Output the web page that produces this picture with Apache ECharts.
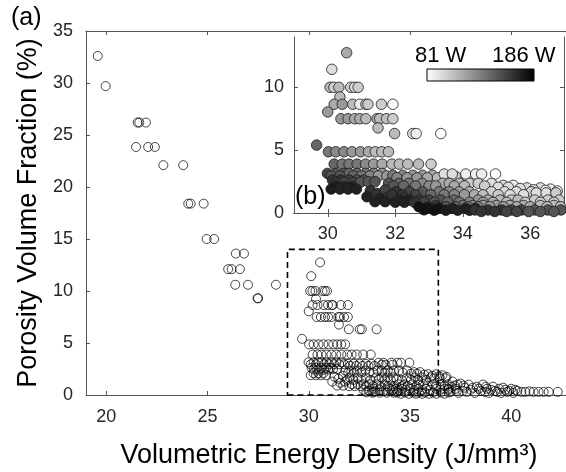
<!DOCTYPE html>
<html>
<head>
<meta charset="utf-8">
<script src="https://cdn.jsdelivr.net/npm/echarts@6/dist/echarts.min.js"></script>
<style>
html,body{margin:0;padding:0;background:#fff;}
#chart{width:566px;height:472px;}
</style>
</head>
<body>
<div id="chart"></div>
<script>
// ---- data ----
const mainXTicks = [20, 25, 30, 35, 40];
const insetXTicks = [30, 32, 34, 36];
const insetYTicks = [0, 5, 10];

// low-energy samples (main plot only)
const sparseEnergy = [19.58,19.97,21.55,21.63,21.96,21.47,22.07,22.4,22.82,23.8,24.05,24.17,24.81,24.96,25.33,26.4,26.8,26.02,26.19,26.6,26.37,27.0,27.47,27.5,28.38];
const sparsePorosity = [32.6,29.7,26.2,26.2,26.2,23.85,23.85,23.85,22.1,22.1,18.4,18.4,18.4,15.0,15.0,13.6,13.6,12.1,12.1,12.1,10.6,10.6,9.3,9.3,10.6];

// dense samples: [energy J/mm3, porosity %, laser power W]
const densePoints = [
[30.56,12.75,116],[30.12,11.43,95],
[30.07,10.0,109],[30.18,10.0,102],[30.33,10.0,109],[30.68,10.0,102],[30.80,10.0,95],[30.90,10.0,102],
[30.36,9.23,109],
[30.19,8.65,116],[30.43,8.65,123],[30.74,8.65,109],[30.95,8.65,88],[31.13,8.65,102],[31.19,8.65,102],[31.59,8.65,102],[31.93,8.65,81],
[30.0,8.04,123],
[30.39,7.5,123],[30.6,7.5,123],[30.8,7.5,116],[30.95,7.5,116],[31.13,7.5,109],[31.46,7.5,116],[31.54,7.5,109],[31.74,7.5,109],[31.93,7.5,102],
[31.49,6.77,109],
[31.98,6.32,109],[32.52,6.32,95],[32.62,6.32,88],[33.35,6.32,81],
[29.67,5.4,144],
[30.02,4.87,137],[30.24,4.87,130],[30.48,4.87,130],[30.72,4.87,123],[30.97,4.87,123],[31.21,4.87,116],[31.41,4.87,109],[31.6,4.87,109],[31.8,4.87,109],
[30.19,3.89,144],[30.43,3.89,137],[30.63,3.89,137],[30.87,3.89,137],[31.12,3.89,130],[31.36,3.89,123],[31.61,3.89,116],[31.9,3.89,109],[32.12,3.89,109],[32.37,3.89,109],[32.69,3.89,109],[33.06,3.89,102],
[29.99,3.15,158],[30.24,3.15,151],[30.48,3.15,151],[30.63,3.15,144],[30.87,3.15,144],[31.12,3.15,137],[31.36,3.15,130],[31.61,3.15,123],
[30.1,2.95,151],[30.36,2.95,151],[30.75,2.95,144],[31.0,2.95,137],[31.25,2.95,130],[31.5,2.95,123],[31.75,2.95,123],
[31.93,3.0,137],[32.22,3.0,130],[32.52,3.0,123],[32.81,3.0,123],[33.1,3.0,116],[33.6,2.9,102],[33.79,2.9,102],[34.13,2.9,95],
[32.05,2.8,130],[32.35,2.8,123],[32.65,2.8,123],[32.95,2.8,116],[33.25,2.8,109],
[33.45,3.1,95],[33.69,3.1,95],[34.09,3.1,88],[34.38,3.1,88],[34.56,3.1,88],[34.97,3.1,81],
[30.14,2.62,165],[30.38,2.62,165],[30.63,2.62,158],[30.87,2.62,151],[31.07,2.62,151],
[30.25,2.45,165],[30.5,2.45,158],[30.75,2.45,158],[30.97,2.45,151],[31.2,2.5,151],[31.4,2.5,151],
[30.24,2.09,175],[30.48,2.09,172],[30.72,2.09,172],[30.1,1.9,175],[30.36,1.9,172],[30.6,1.9,172],[30.85,1.9,172],
[31.8,2.36,151],[32.1,2.36,144],[32.4,2.36,137],[32.8,2.36,130],[33.4,2.36,116],[33.6,2.36,116],[33.9,2.36,109],[34.2,2.36,102],[34.46,2.36,102],[34.85,2.36,95],
[31.95,2.15,151],[32.25,2.15,144],[32.6,2.15,137],[33.0,2.15,130],[33.2,2.15,123],[33.75,2.15,116],[34.05,2.15,109],[34.65,2.15,102],
[35.2,2.2,95],[35.5,2.2,88],[35.9,2.0,95],[36.3,2.0,95],[36.6,1.9,88],
[35.05,2.05,95],[35.35,2.05,95],[35.7,1.95,95],[36.1,1.85,95],[36.45,1.8,88],[36.8,1.75,88],
[31.26,1.77,165],[31.46,1.56,165],[31.7,1.83,158],[31.16,1.29,172],[31.56,1.17,172],[31.8,1.29,165],
[32.03,1.69,165],[32.42,1.69,158],[32.81,1.69,151],[33.3,1.69,137],[33.6,1.69,130],[33.89,1.69,123],[34.19,1.69,116],[34.85,1.69,102],[35.24,1.69,95],[35.59,1.69,95],[36.03,1.69,102],[36.18,1.6,95],[36.47,1.6,95],[36.76,1.6,102],
[31.9,1.45,165],[32.2,1.45,165],[32.6,1.45,158],[33.05,1.45,144],[33.45,1.45,137],[33.75,1.45,130],[34.05,1.45,123],[34.35,1.45,116],[34.6,1.45,109],[35.05,1.45,102],[35.4,1.45,95],[35.8,1.45,95],
[32.13,1.03,172],[32.42,1.03,172],[32.72,1.03,165],[33.0,1.03,158],[33.35,1.03,151],[33.74,1.03,144],[34.46,1.03,123],[34.75,1.03,116],[35.1,1.03,109],[35.44,1.03,102],[35.64,1.03,109],[36.13,1.03,102],[36.52,1.03,102],[36.86,1.03,102],
[31.4,0.9,172],[31.7,0.9,172],[32.0,0.85,172],[32.27,0.85,172],[32.57,0.85,165],[32.85,0.85,158],[33.17,0.85,151],[33.55,0.85,144],[33.9,0.85,137],[34.2,0.85,130],[34.6,0.85,123],[34.9,0.85,116],[35.3,0.85,109],[35.85,0.85,102],[36.3,0.85,102],[36.7,0.85,102],
[33.2,0.6,165],[34.0,0.6,137],[34.3,0.6,130],[34.6,0.6,123],[35.0,0.6,123],[35.4,0.6,116],[35.8,0.6,116],[36.3,0.6,109],[36.7,0.6,109],
[33.5,0.5,151],[33.8,0.5,144],[34.15,0.5,137],[34.45,0.5,130],[34.8,0.5,123],[35.2,0.5,123],[35.6,0.5,116],[36.0,0.5,116],[36.5,0.5,109],[36.9,0.5,109],
[32.7,0.5,179],[32.95,0.45,179],[33.2,0.3,175],
[33.0,0.37,179],[33.3,0.37,179],[33.69,0.37,172],[34.09,0.37,172],[34.38,0.37,172],
[32.85,0.25,179],[33.15,0.22,179],[33.5,0.22,175],[33.85,0.22,172],[34.2,0.22,172],
[34.36,0.24,165],[34.75,0.24,165],[35.15,0.24,165],[35.44,0.24,158],[35.74,0.24,158],[36.13,0.24,151],[36.52,0.24,151],[36.91,0.24,151],
[34.55,0.12,165],[34.95,0.12,165],[35.3,0.12,158],[35.6,0.12,158],[35.95,0.12,151],[36.3,0.12,151],[36.7,0.12,151]
];

// high-energy tail (main plot only, beyond inset range)
const tailEnergy = [36.9,37.0,37.05,37.1,37.2,37.25,37.3,37.35,37.4,37.5,37.6,37.65,37.7,37.8,37.9,38.0,38.1,38.2,38.3,38.4,38.5,38.6,38.7,38.75,38.8,38.9,39.0,39.1,39.2,39.3,39.4,39.5,39.6,39.7,39.8,39.9,40.0,40.1,40.2,40.3,40.5,40.7,40.9,41.1,41.35,41.6,41.85,42.3];
const tailPorosity = [0.6,0.3,0.8,1.3,0.9,0.6,0.4,1.0,0.2,1.1,0.4,0.9,0.7,0.3,1.0,0.5,0.7,0.2,0.8,0.6,0.4,1.0,0.3,0.8,0.6,0.2,0.5,0.8,0.4,0.3,0.6,0.2,0.7,0.5,0.3,0.4,0.6,0.2,0.5,0.4,0.3,0.3,0.35,0.3,0.3,0.3,0.3,0.3];

const powerRange = [81, 186];
const zoomBox = [[28.95, 0], [36.4, 14]];

// ---- build ----
const mainData = [];
sparseEnergy.forEach((e, i) => mainData.push([e, sparsePorosity[i]]));
densePoints.forEach(p => mainData.push([p[0], p[1]]));
tailEnergy.forEach((e, i) => mainData.push([e, tailPorosity[i]]));

const FONT = 'Liberation Sans, Arial, sans-serif';
const AX = '#555';
const TXT = '#262626';

function axisCommon(extra) {
  return Object.assign({
    axisLine: { show: true, lineStyle: { color: AX, width: 1 } },
    axisTick: { show: true, inside: true, length: 4, lineStyle: { color: AX } },
    axisLabel: { color: TXT, fontSize: 18, fontFamily: FONT },
    splitLine: { show: false }
  }, extra);
}

const chart = echarts.init(document.getElementById('chart'), null, { renderer: 'canvas' });

const option = {
  backgroundColor: '#fff',
  animation: false,
  textStyle: { fontFamily: FONT },
  grid: [
    { left: 86, top: 31, right: -6, bottom: 77, outerBoundsMode: 'none' },
    { left: 294, top: 37, width: 270, height: 176, show: true, backgroundColor: '#fff', borderWidth: 0, outerBoundsMode: 'none' }
  ],
  xAxis: [
    axisCommon({
      gridIndex: 0, type: 'value', min: 19, max: 43, position: 'bottom',
      axisTick: { show: true, inside: true, length: 4, lineStyle: { color: AX }, customValues: mainXTicks },
      axisLabel: { color: TXT, fontSize: 18, fontFamily: FONT, margin: 13, customValues: mainXTicks },
      name: 'Volumetric Energy Density (J/mm\u00B3)', nameLocation: 'middle', nameGap: 47,
      nameTextStyle: { color: '#000', fontSize: 27, fontFamily: FONT }
    }),
    axisCommon({
      gridIndex: 0, type: 'value', min: 19, max: 43, position: 'top',
      axisTick: { show: true, inside: true, length: 4, lineStyle: { color: AX }, customValues: mainXTicks },
      axisLabel: { show: false }
    }),
    axisCommon({
      gridIndex: 1, type: 'value', min: 29, max: 37, position: 'bottom',
      axisTick: { show: true, inside: true, length: 4, lineStyle: { color: AX }, customValues: insetXTicks },
      axisLabel: { color: TXT, fontSize: 18, fontFamily: FONT, margin: 12, customValues: insetXTicks }
    }),
    axisCommon({
      gridIndex: 1, type: 'value', min: 29, max: 37, position: 'top',
      axisTick: { show: true, inside: true, length: 4, lineStyle: { color: AX }, customValues: insetXTicks },
      axisLabel: { show: false }
    })
  ],
  yAxis: [
    axisCommon({
      gridIndex: 0, type: 'value', min: 0, max: 35, interval: 5, position: 'left',
      axisLabel: { color: TXT, fontSize: 18, fontFamily: FONT, margin: 13 },
      name: 'Porosity Volume Fraction (%)', nameLocation: 'middle', nameGap: 44,
      nameTextStyle: { color: '#000', fontSize: 27, fontFamily: FONT }
    }),
    axisCommon({
      gridIndex: 1, type: 'value', min: 0, max: 14, position: 'left',
      axisTick: { show: true, inside: true, length: 4, lineStyle: { color: AX }, customValues: insetYTicks },
      axisLabel: { color: TXT, fontSize: 18, fontFamily: FONT, margin: 10, customValues: insetYTicks }
    }),
    axisCommon({
      gridIndex: 1, type: 'value', min: 0, max: 14, position: 'right',
      axisTick: { show: true, inside: true, length: 4, lineStyle: { color: AX }, customValues: insetYTicks },
      axisLabel: { show: false }
    })
  ],
  visualMap: {
    type: 'continuous', show: false, seriesIndex: 1, dimension: 2,
    min: powerRange[0], max: powerRange[1],
    inRange: { color: ['#ffffff', '#000000'] }
  },
  series: [
    {
      type: 'scatter', xAxisIndex: 0, yAxisIndex: 0,
      data: mainData, symbol: 'circle', symbolSize: 9,
      itemStyle: { color: 'rgba(0,0,0,0)', borderColor: '#000', borderWidth: 0.9 },
      markArea: {
        silent: true,
        itemStyle: { color: 'rgba(0,0,0,0)', borderColor: '#000', borderWidth: 1.6, borderType: [6, 4] },
        data: [[{ coord: zoomBox[0] }, { coord: zoomBox[1] }]]
      },
      z: 3
    },
    {
      type: 'scatter', xAxisIndex: 2, yAxisIndex: 1,
      data: densePoints, symbol: 'circle', symbolSize: 10.5,
      itemStyle: { borderColor: '#1a1a1a', borderWidth: 0.8, opacity: 1 },
      z: 5
    }
  ],
  graphic: [
    { type: 'text', left: 11, top: 6, z: 100, style: { text: '(a)', fontSize: 25, fontFamily: FONT, fill: '#000' } },
    { type: 'text', left: 295, top: 185, z: 100, style: { text: '(b)', fontSize: 25, fontFamily: FONT, fill: '#000' } },
    {
      type: 'rect', z: 100, shape: { x: 427, y: 69, width: 107, height: 12 },
      style: {
        fill: new echarts.graphic.LinearGradient(0, 0, 1, 0, [
          { offset: 0, color: '#ffffff' }, { offset: 1, color: '#000000' }
        ]),
        stroke: '#000', lineWidth: 1
      }
    },
    { type: 'text', z: 100, x: 415, y: 45, style: { text: '81 W', fontSize: 22, fontFamily: FONT, fill: '#000' } },
    { type: 'text', z: 100, x: 492, y: 45, style: { text: '186 W', fontSize: 22, fontFamily: FONT, fill: '#000' } }
  ]
};
chart.setOption(option);
</script>
</body>
</html>
